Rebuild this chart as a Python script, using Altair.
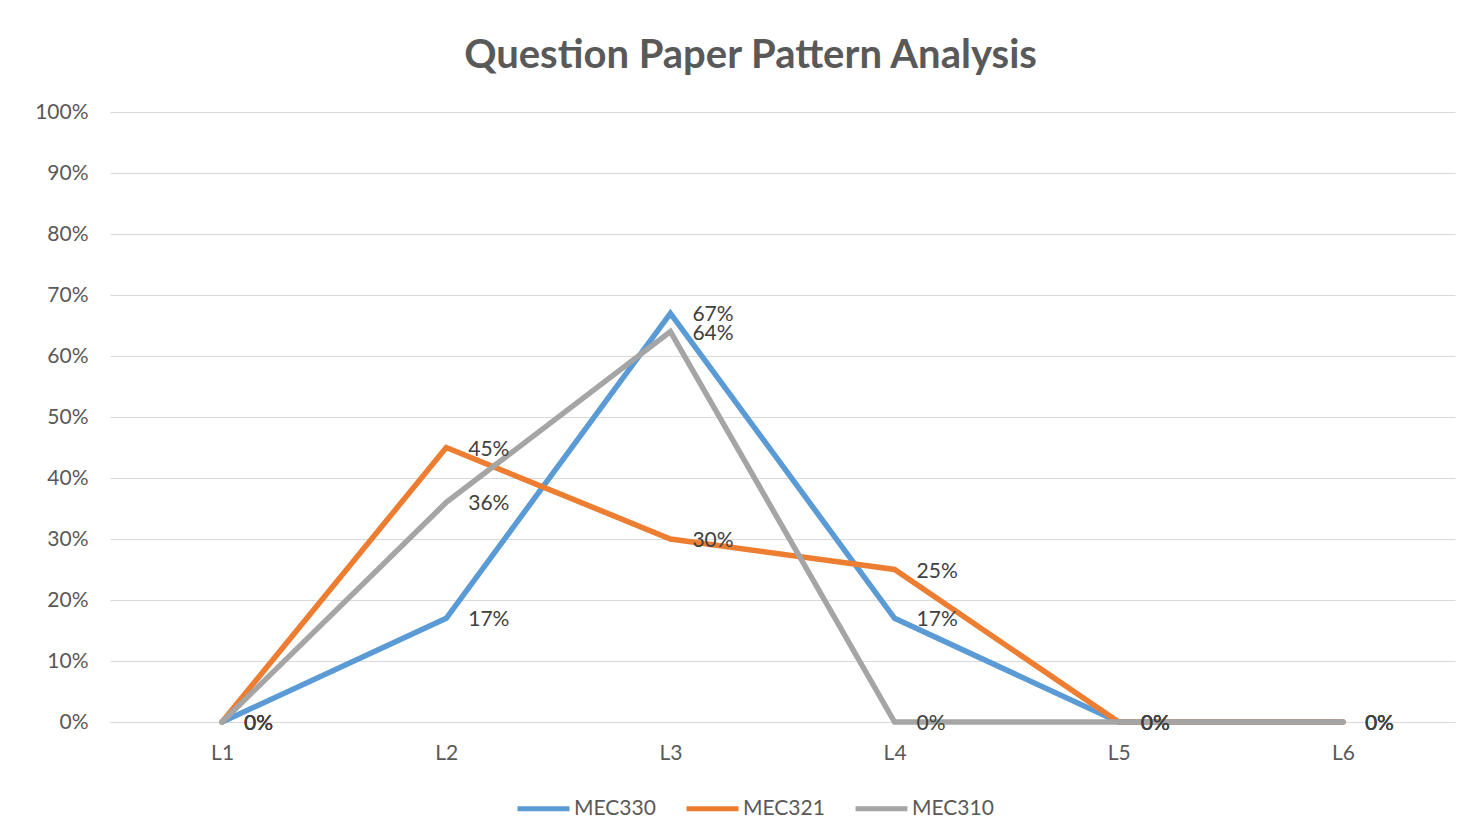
import altair as alt
import pandas as pd

levels = ["L1", "L2", "L3", "L4", "L5", "L6"]
series = ["MEC330", "MEC321", "MEC310"]
mec330 = [0.00, 0.17, 0.67, 0.17, 0.00, 0.00]
mec321 = [0.00, 0.45, 0.30, 0.25, 0.00, 0.00]
mec310 = [0.00, 0.36, 0.64, 0.00, 0.00, 0.00]
colors = ["#5B9BD5", "#ED7D31", "#A5A5A5"]

rows = []
for name, vals in zip(series, [mec330, mec321, mec310]):
    for lv, v in zip(levels, vals):
        rows.append({"Level": lv, "Series": name, "Value": v, "order": series.index(name)})
df = pd.DataFrame(rows)

FONT = "Lato"
FS = 21

x = alt.X("Level:N", sort=levels, scale=alt.Scale(type="point", padding=0.5),
          axis=alt.Axis(title=None, labelAngle=0, ticks=False, domain=True, domainColor="#D9D9D9",
                        domainWidth=1, grid=False, labelPadding=20, labelFontSize=FS,
                        labelColor="#595959", labelFont=FONT))
y = alt.Y("Value:Q", scale=alt.Scale(domain=[0, 1]),
          axis=alt.Axis(title=None, format=".0%", values=[i / 10 for i in range(11)],
                        ticks=False, domain=False, gridColor="#D9D9D9", gridWidth=1,
                        labelPadding=22, labelFontSize=FS, labelColor="#595959", labelFont=FONT))
color = alt.Color("Series:N", sort=series, scale=alt.Scale(domain=series, range=colors),
                  legend=alt.Legend(title=None, orient="none", direction="horizontal",
                                    legendX=405, legendY=668, symbolType="stroke",
                                    symbolSize=2700, symbolStrokeWidth=5, labelFontSize=FS,
                                    labelColor="#595959", labelFont=FONT, columnPadding=20,
                                    labelOffset=2))

lines = alt.Chart(df).mark_line(strokeWidth=5.5, strokeCap="round", strokeJoin="miter").encode(
    x=x, y=y, color=color, order=alt.Order("order:Q"), detail="Series:N"
)
labels = alt.Chart(df).mark_text(align="left", baseline="middle", dx=22, dy=2, fontSize=FS,
                                 color="#404040", font=FONT).encode(
    x=x, y=y, text=alt.Text("Value:Q", format=".0%"), detail="Series:N"
)

chart = alt.layer(lines, labels).properties(
    width=1345, height=610,
    title=alt.TitleParams("Question Paper Pattern Analysis", fontSize=40, font=FONT,
                          fontWeight="bold", color="#595959", anchor="middle", dx=-32, offset=25),
    autosize=alt.AutoSizeParams(type="none"),
    padding={"left": 102, "top": 104, "right": 2, "bottom": 100},
).configure(background="white", view={"stroke": None})

chart.save("out.html", embed_options={"renderer": "svg", "actions": False})
